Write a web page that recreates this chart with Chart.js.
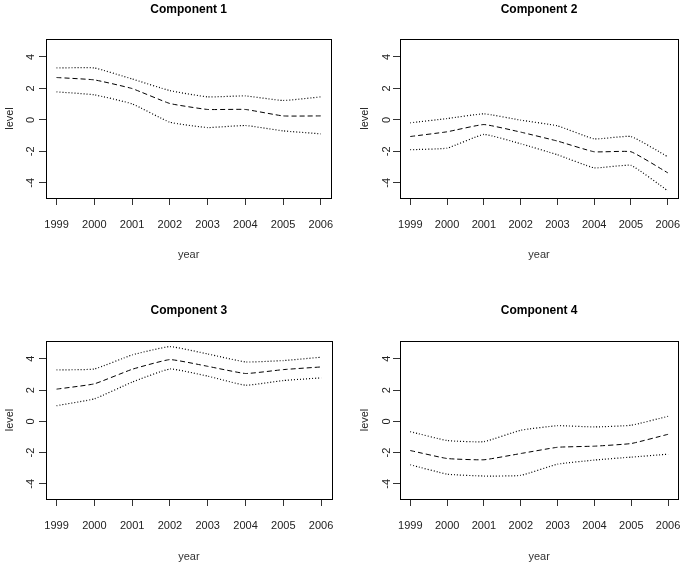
<!DOCTYPE html>
<html>
<head>
<meta charset="utf-8">
<script src="https://cdn.jsdelivr.net/npm/chart.js@4.4.0/dist/chart.umd.min.js"></script>
<style>
  body { margin: 0; background: #fff; }
  #wrap { position: relative; width: 694px; height: 567px; overflow: hidden; background: #fff; }
  #wrap canvas { position: absolute; }
</style>
</head>
<body>
<div id="wrap">
  <canvas id="c1"></canvas>
  <canvas id="c2"></canvas>
  <canvas id="c3"></canvas>
  <canvas id="c4"></canvas>
</div>
<script>
// valores
var years = [1999, 2000, 2001, 2002, 2003, 2004, 2005, 2006];
var yTicks = [-4, -2, 0, 2, 4];

var comp1Upper = [3.30, 3.30, 2.60, 1.86, 1.46, 1.52, 1.23, 1.46];
var comp1Mid   = [2.69, 2.54, 1.99, 1.04, 0.66, 0.66, 0.25, 0.25];
var comp1Lower = [1.78, 1.59, 1.02, -0.15, -0.49, -0.36, -0.70, -0.89];

var comp2Upper = [-0.19, 0.08, 0.38, -0.02, -0.38, -1.21, -1.06, -2.35];
var comp2Mid   = [-1.06, -0.76, -0.30, -0.78, -1.35, -2.03, -2.03, -3.37];
var comp2Lower = [-1.90, -1.80, -0.93, -1.52, -2.22, -3.05, -2.90, -4.51];

var comp3Upper = [3.29, 3.35, 4.25, 4.78, 4.31, 3.80, 3.89, 4.10];
var comp3Mid   = [2.06, 2.40, 3.33, 3.95, 3.52, 3.06, 3.31, 3.48];
var comp3Lower = [1.00, 1.44, 2.51, 3.35, 2.89, 2.31, 2.61, 2.78];

var comp4Upper = [-0.66, -1.23, -1.30, -0.57, -0.28, -0.36, -0.25, 0.32];
var comp4Mid   = [-1.87, -2.38, -2.46, -2.06, -1.66, -1.59, -1.42, -0.83];
var comp4Lower = [-2.78, -3.38, -3.50, -3.46, -2.74, -2.48, -2.29, -2.10];

var FONT = "'Liberation Sans', Arial, sans-serif";
var TICK = 7;
var TICK_SIZE = 11;
var TITLE_SIZE = 12;

var panels = [
  { id: 'c1', title: 'Component 1', upper: comp1Upper, mid: comp1Mid, lower: comp1Lower,
    x: 0, y: 0, w: 347, h: 283, area: { l: 46, t: 39, r: 333, b: 198 },
    titleY: 10, tickY: 225, xTitleY: 255, yTickX: 31.7, yTitleX: 10 },
  { id: 'c2', title: 'Component 2', upper: comp2Upper, mid: comp2Mid, lower: comp2Lower,
    x: 347, y: 0, w: 347, h: 283, area: { l: 53, t: 39, r: 341, b: 198 },
    titleY: 10, tickY: 225, xTitleY: 255, yTickX: 40, yTitleX: 18.3 },
  { id: 'c3', title: 'Component 3', upper: comp3Upper, mid: comp3Mid, lower: comp3Lower,
    x: 0, y: 290, w: 347, h: 277, area: { l: 46, t: 51, r: 333, b: 209 },
    titleY: 20.7, tickY: 235.7, xTitleY: 266.7, yTickX: 31.7, yTitleX: 10 },
  { id: 'c4', title: 'Component 4', upper: comp4Upper, mid: comp4Mid, lower: comp4Lower,
    x: 347, y: 290, w: 347, h: 277, area: { l: 53, t: 51, r: 341, b: 209 },
    titleY: 20.7, tickY: 235.7, xTitleY: 266.7, yTickX: 40, yTitleX: 18.3 }
];

// marco alrededor del area del grafico
var frame = {
  id: 'frame',
  afterDatasetsDraw: function(chart) {
    var a = chart.chartArea, c = chart.ctx;
    c.save();
    c.strokeStyle = '#000';
    c.lineWidth = 1;
    c.strokeRect(Math.round(a.left) + 0.5, Math.round(a.top) + 0.5,
      Math.round(a.right - a.left), Math.round(a.bottom - a.top));
    c.restore();
  }
};

function points(vals) {
  return years.map(function(yr, i) { return { x: yr, y: vals[i] }; });
}

function line(vals, dash, width) {
  return {
    data: points(vals),
    borderColor: '#000',
    borderWidth: width,
    borderDash: dash,
    pointRadius: 0,
    fill: false,
    tension: 0.12
  };
}

panels.forEach(function(p) {
  var cv = document.getElementById(p.id);
  cv.width = p.w;
  cv.height = p.h;
  cv.style.left = p.x + 'px';
  cv.style.top = p.y + 'px';

  var tickFont = { family: FONT, size: TICK_SIZE, lineHeight: 1.2 };
  var tickLh = TICK_SIZE * 1.2;
  var titleLh = TITLE_SIZE * 1.2;
  var tickW = 9; // ancho aprox. de "-4"

  new Chart(cv.getContext('2d'), {
    type: 'line',
    data: {
      datasets: [
        line(p.upper, [1, 2], 1.2),
        line(p.mid, [5, 3], 1),
        line(p.lower, [1, 2], 1.2)
      ]
    },
    plugins: [frame],
    options: {
      responsive: false,
      animation: false,
      devicePixelRatio: 1,
      layout: { padding: { left: 0, top: 0, right: p.w - p.area.r, bottom: 0 } },
      plugins: {
        legend: { display: false },
        tooltip: { enabled: false },
        title: {
          display: true,
          text: p.title,
          fullSize: false,
          color: '#000',
          font: { family: FONT, size: TITLE_SIZE, weight: 'bold', lineHeight: 1.2 },
          padding: { top: p.titleY - titleLh / 2, bottom: p.area.t - p.titleY - titleLh / 2 }
        }
      },
      scales: {
        x: {
          type: 'linear',
          min: 1998.72,
          max: 2006.28,
          afterFit: function(s) { s.height = p.h - p.area.b; },
          afterBuildTicks: function(s) { s.ticks = years.map(function(v) { return { value: v }; }); },
          grid: { display: true, drawOnChartArea: false, drawTicks: true, tickLength: TICK, color: '#333' },
          border: { display: false },
          ticks: {
            color: '#222',
            font: tickFont,
            maxRotation: 0,
            autoSkip: false,
            padding: p.tickY - p.area.b - TICK - tickLh / 2,
            callback: function(v) { return String(v); }
          },
          title: {
            display: true,
            text: 'year',
            color: '#333',
            font: tickFont,
            padding: { top: 0, bottom: p.h - p.xTitleY - tickLh / 2 }
          }
        },
        y: {
          type: 'linear',
          min: -4.97,
          max: 5.14,
          afterFit: function(s) { s.width = p.area.l; },
          afterBuildTicks: function(s) { s.ticks = yTicks.map(function(v) { return { value: v }; }); },
          grid: { display: true, drawOnChartArea: false, drawTicks: true, tickLength: TICK, color: '#333' },
          border: { display: false },
          ticks: {
            color: '#222',
            font: tickFont,
            minRotation: 90,
            maxRotation: 90,
            crossAlign: 'center',
            padding: p.area.l - TICK - tickW / 2 - p.yTickX,
            callback: function(v) { return String(v); }
          },
          title: {
            display: true,
            text: 'level',
            color: '#222',
            font: tickFont,
            padding: { top: p.yTitleX - tickLh / 2, bottom: 0 }
          }
        }
      }
    }
  });
});
</script>
</body>
</html>
